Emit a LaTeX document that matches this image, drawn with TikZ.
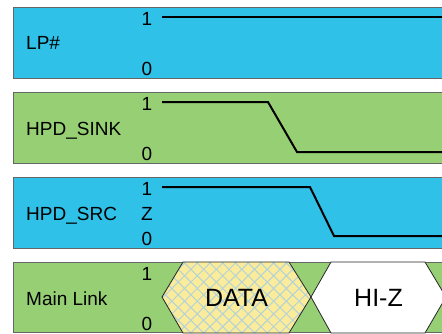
\documentclass[tikz,border=0pt]{standalone}
\usepackage{fontspec}
\setmainfont{Liberation Sans}
\usetikzlibrary{patterns.meta}
\definecolor{laneblue}{RGB}{47,193,231}
\definecolor{lanegreen}{RGB}{151,207,116}
\definecolor{datayellow}{RGB}{250,236,154}
\definecolor{hatchgray}{RGB}{180,210,218}
\tikzstyle{every node}=[font=\fontsize{19}{21}\selectfont,inner sep=0pt]
\tikzstyle{lane}=[draw=black!60,line width=0.9pt]
\tikzstyle{wave}=[line width=2pt]
\tikzstyle{signame}=[anchor=base west]
\tikzstyle{level}=[anchor=base]
\tikzstyle{bus}=[draw=black!85,line width=0.8pt]
\tikzstyle{buslabel}=[anchor=base,font=\fontsize{25}{27}\selectfont]

\begin{document}
\begin{tikzpicture}[x=1pt,y=-1pt]
    \useasboundingbox (0,0) rectangle (442,333);
    \clip (0,0) rectangle (442,333);

    % lanes
    \draw[lane,fill=laneblue] (13,7) rectangle (460,78);
    \draw[lane,fill=lanegreen] (13,92) rectangle (460,163);
    \draw[lane,fill=laneblue] (13,177) rectangle (460,248);
    \draw[lane,fill=lanegreen] (13,262) rectangle (460,332.5);

    % LP#
    \node[signame] (lp) at (26,49.5) {LP\#};
    \node[level] (lp1) at (147,25) {1};
    \node[level] (lp0) at (147,75) {0};
    \draw[wave] (162,17) -- (460,17);

    % HPD_SINK
    \node[signame] (sink) at (26,135) {HPD\_SINK};
    \node[level] (sink1) at (147,110) {1};
    \node[level] (sink0) at (147,160) {0};
    \draw[wave] (162,102) -- (268,102) -- (297,152) -- (460,152);

    % HPD_SRC
    \node[signame] (src) at (26,220) {HPD\_SRC};
    \node[level] (src1) at (147,195) {1};
    \node[level] (srcz) at (147,220) {Z};
    \node[level] (src0) at (147,245) {0};
    \draw[wave] (162,187) -- (310,187) -- (334,236) -- (460,236);

    % Main Link
    \node[signame] (ml) at (26,305) {Main Link};
    \node[level] (ml1) at (147,280) {1};
    \node[level] (ml0) at (147,330) {0};
    \draw[bus,preaction={fill=datayellow},
          pattern={Hatch[angle=45,distance=9pt,line width=1pt]},pattern color=hatchgray]
        (162,297) -- (183,262) -- (289,262) -- (311,297) -- (289,333) -- (183,333) -- cycle;
    \draw[bus,fill=white]
        (311,297) -- (331,262) -- (425,262) -- (446,297) -- (425,333) -- (331,333) -- cycle;
    \node[buslabel] (data) at (236.5,306) {DATA};
    \node[buslabel] (hiz) at (378.5,306) {HI-Z};
\end{tikzpicture}
\end{document}
